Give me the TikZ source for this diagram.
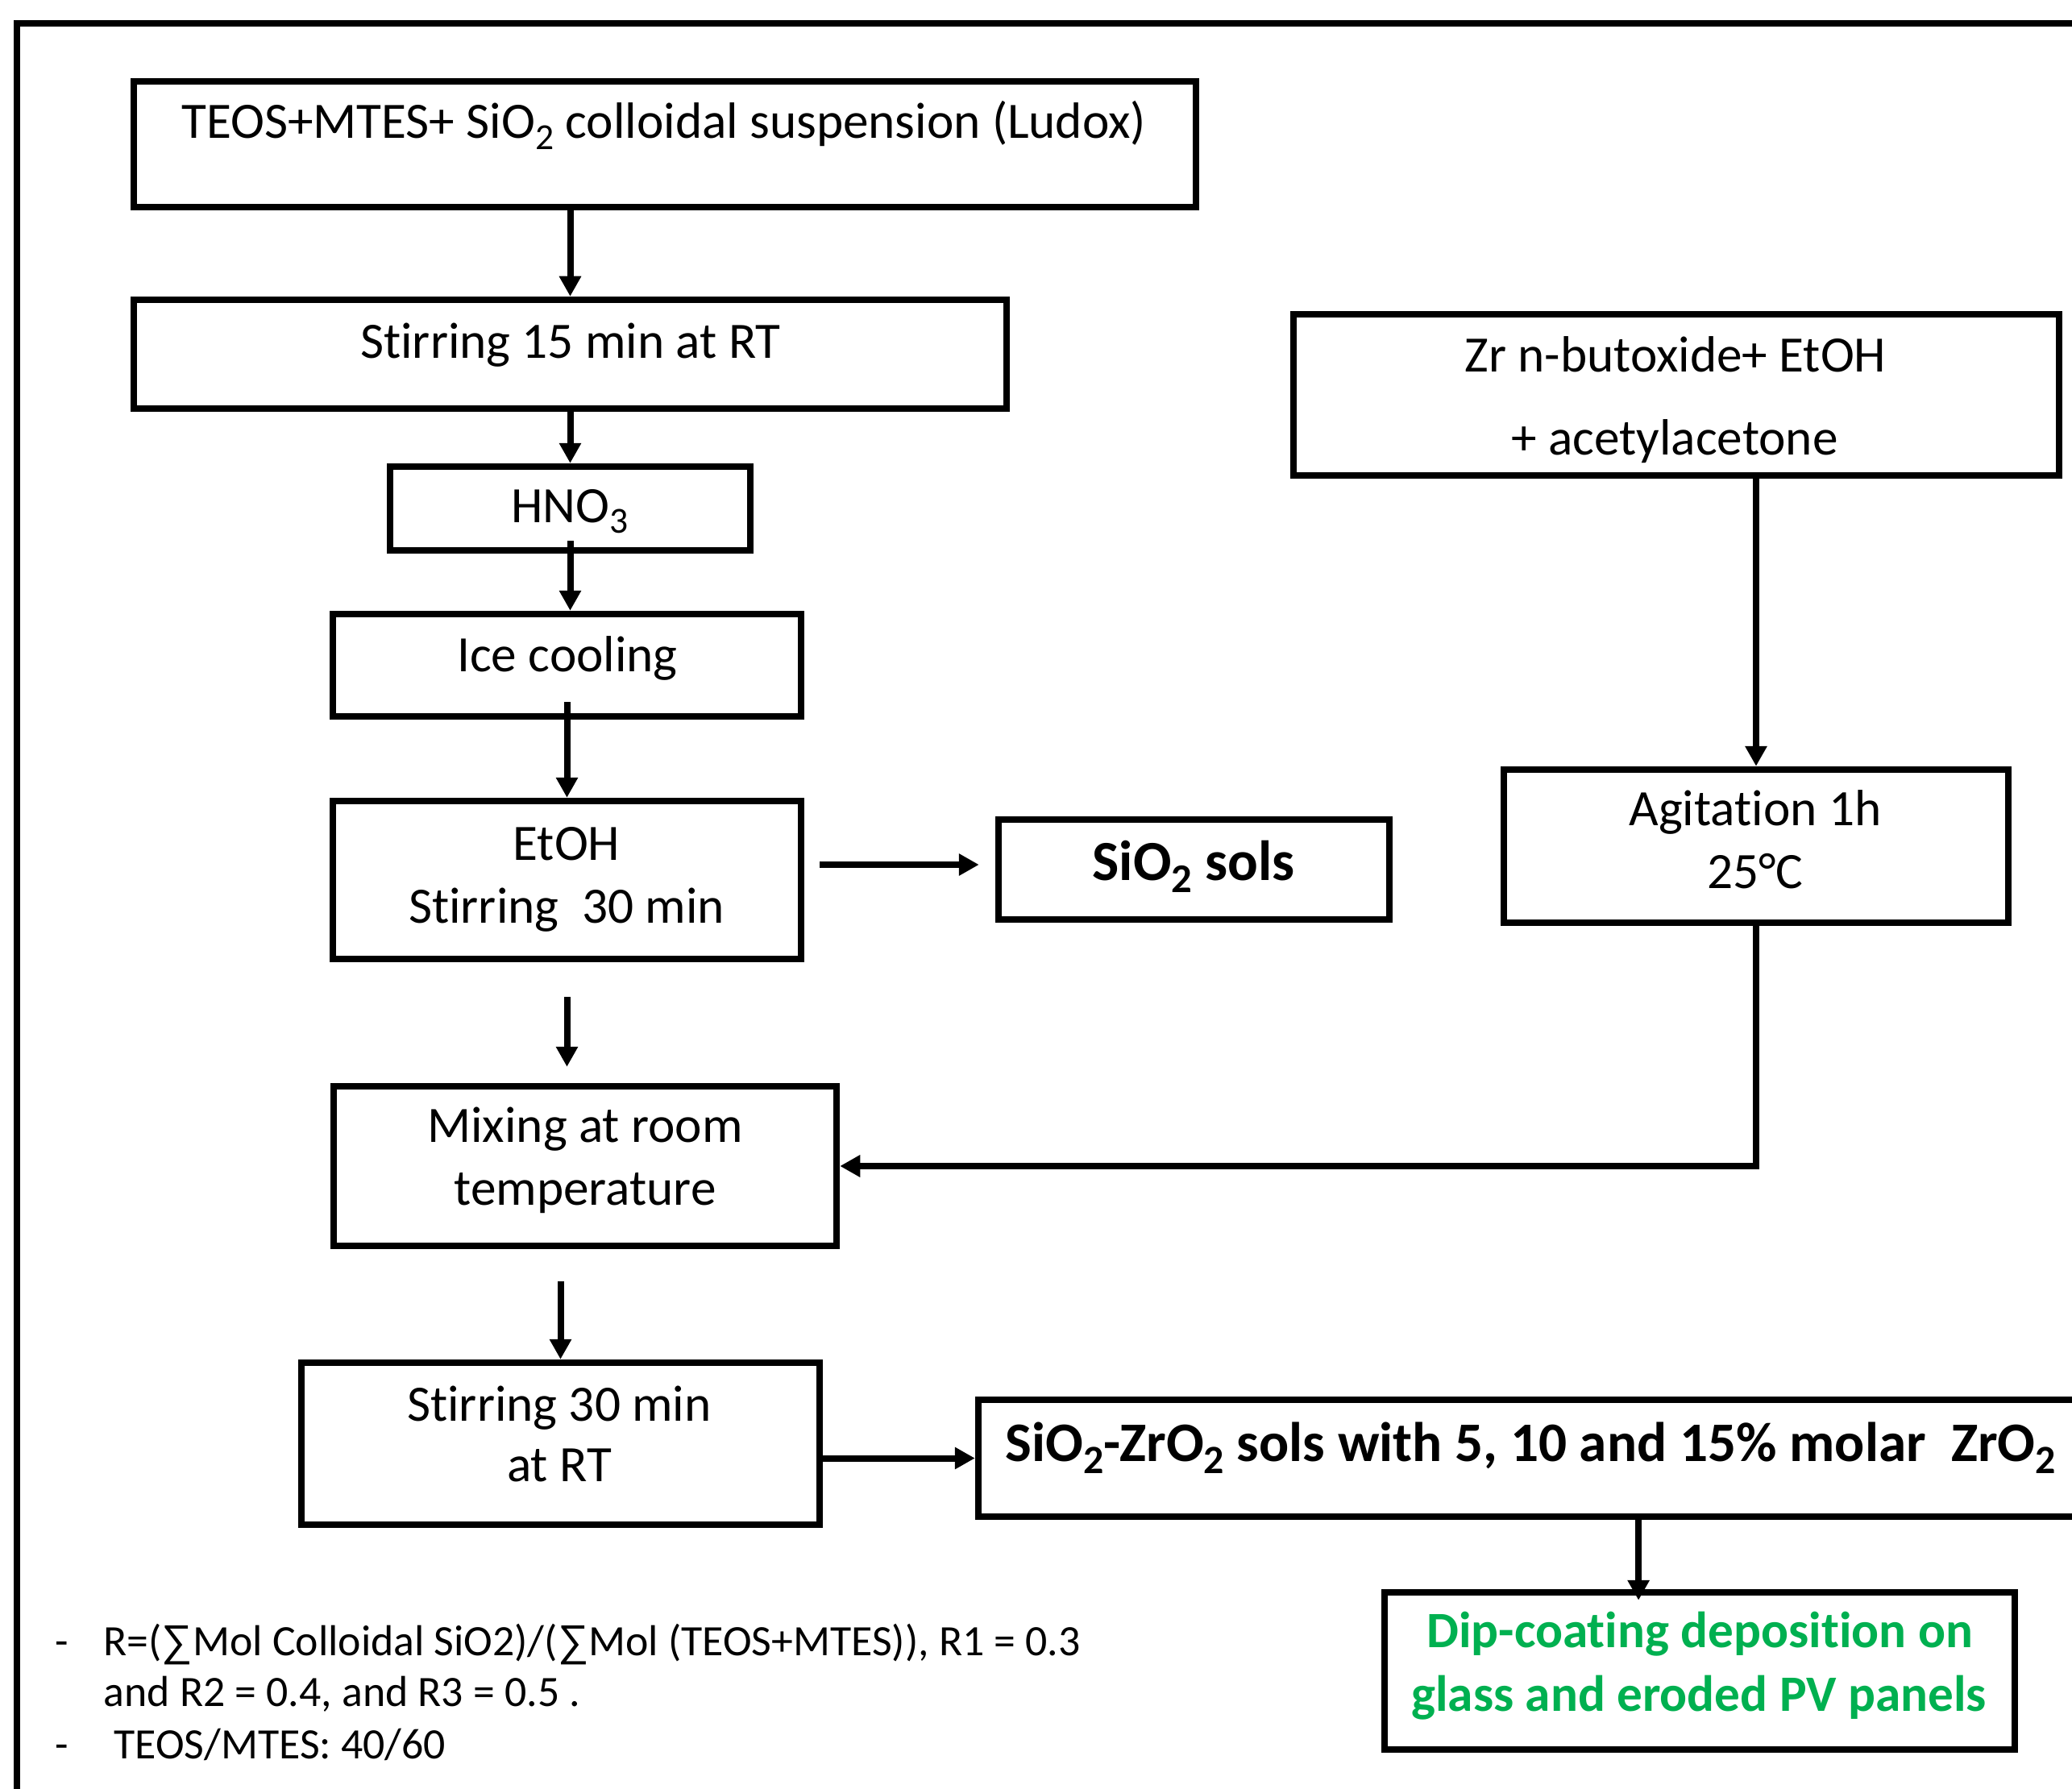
\documentclass[tikz,border=0pt]{standalone}
\usepackage{fontspec}
\setmainfont{Carlito}[Ligatures={NoCommon,NoContextual}]
\newfontfamily\sumfont{Liberation Sans}
\usepackage{graphicx}
\usetikzlibrary{arrows.meta,calc}
\definecolor{dipgreen}{HTML}{00B050}
\newcommand{\sbs}[1]{\raisebox{-0.22em}{\scalebox{0.72}{#1}}}
\tikzset{
  box/.style={draw, line width=0.085cm, inner sep=0pt},
  arr/.style={line width=0.08cm, -{Triangle[length=0.25cm,width=0.26cm]}},
  txt/.style={anchor=base, inner sep=0pt, font=\fontsize{18}{22}\selectfont},
  btxt/.style={anchor=base, inner sep=0pt, font=\fontsize{20}{24}\selectfont\bfseries},
  gtxt/.style={anchor=base, inner sep=0pt, text=dipgreen, font=\fontsize{18}{22}\selectfont\bfseries},
  note/.style={anchor=base west, inner sep=0pt, font=\fontsize{15.3}{18}\selectfont},
}
\begin{document}
\begin{tikzpicture}
\useasboundingbox (0,0) rectangle (25.71,-22.20);
\fill[white] (0,0) rectangle (25.71,-22.20);
% outer frame (right and bottom sides lie outside the picture)
\draw[line width=0.085cm] (26.2,-0.29) -- (0.21,-0.29) -- (0.21,-22.7);

% boxes
\node[box, minimum width=13.18cm, minimum height=1.56cm] (teos) at (8.25,-1.79) {};
\node[box, minimum width=10.83cm, minimum height=1.35cm] (stir15) at (7.075,-4.395) {};
\node[box, minimum width=4.47cm, minimum height=1.04cm] (hno) at (7.075,-6.31) {};
\node[box, minimum width=5.81cm, minimum height=1.27cm] (ice) at (7.035,-8.255) {};
\node[box, minimum width=5.81cm, minimum height=1.96cm] (etoh) at (7.035,-10.92) {};
\node[box, minimum width=4.85cm, minimum height=1.24cm] (sols) at (14.815,-10.79) {};
\node[box, minimum width=9.50cm, minimum height=2.00cm] (zr) at (20.80,-4.90) {};
\node[box, minimum width=6.26cm, minimum height=1.90cm] (agit) at (21.79,-10.50) {};
\node[box, minimum width=6.24cm, minimum height=1.98cm] (mix) at (7.26,-14.47) {};
\node[box, minimum width=6.43cm, minimum height=2.01cm] (st30) at (6.955,-17.915) {};
\node[box, minimum width=14.36cm, minimum height=1.45cm] (zrsol) at (19.32,-18.095) {};
\node[box, minimum width=7.82cm, minimum height=1.95cm] (dip) at (21.09,-20.735) {};

% texts
\node[txt] (tteos) at (8.24,-1.72) {TEOS+MTES+ SiO\sbs{2} colloidal suspension (Ludox)};
\node[txt] (tstir15) at (7.08,-4.44) {Stirring 15 min at RT};
\node[txt] (thno) at (7.07,-6.48) {HNO\sbs{3}};
\node[txt] (tice) at (7.04,-8.33) {Ice cooling};
\node[txt] (tetoha) at (7.03,-10.67) {EtOH};
\node[txt] (tetohb) at (7.03,-11.45) {Stirring\ \ 30 min};
\node[btxt] (tsols) at (14.81,-10.92) {SiO\sbs{2} sols};
\node[txt] (tzra) at (20.79,-4.61) {Zr n-butoxide+ EtOH};
\node[txt] (tzrb) at (20.78,-5.64) {+ acetylacetone};
\node[txt] (taga) at (21.78,-10.24) {Agitation 1h};
\node[txt] (tagb) at (21.78,-11.02) {25°C};
\node[txt] (tmixa) at (7.26,-14.17) {Mixing at room};
\node[txt] (tmixb) at (7.26,-14.95) {temperature};
\node[txt] (tsta) at (6.94,-17.63) {Stirring 30 min};
\node[txt] (tstb) at (6.94,-18.38) {at RT};
\node[btxt, anchor=base west, font=\fontsize{19.7}{24}\selectfont\bfseries] (tzrsol) at (12.47,-18.13) {SiO\sbs{2}-ZrO\sbs{2} sols with 5, 10 and 15\% molar\ \ ZrO\sbs{2}};
\node[gtxt] (tdipa) at (21.09,-20.44) {Dip-coating deposition on};
\node[gtxt] (tdipb) at (21.08,-21.23) {glass and eroded PV panels};

% notes
\node[note] (da) at (0.68,-20.54) {-};
\node[note] (na) at (1.28,-20.54) {R=({\sumfont ∑}Mol Colloidal SiO2)/({\sumfont ∑}Mol (TEOS+MTES)), R1 = 0.3};
\node[note] (nb) at (1.28,-21.17) {and R2 = 0.4, and R3 = 0.5 .};
\node[note] (db) at (0.68,-21.82) {-};
\node[note] (nc) at (1.41,-21.82) {TEOS/MTES: 40/60};

% connectors
\coordinate (dipin) at ($(dip.north west)!0.404!(dip.north east)$);
\draw[arr] (stir15.north |- teos.south) -- (stir15.north);
\draw[arr] (hno.north |- stir15.south) -- (hno.north);
\draw[arr, shorten <=-0.16cm] (hno.south) -- (hno.south |- ice.north);
\draw[arr, shorten <=-0.22cm] (ice.south) -- (ice.south |- etoh.north);
\draw[arr, shorten <=0.43cm, shorten >=0.2cm] (etoh.south) -- (etoh.south |- mix.north);
\draw[arr, shorten <=0.4cm] (st30.north |- mix.south) -- (st30.north);
\draw[arr, shorten <=0.19cm, shorten >=0.2cm] ($(etoh.east |- sols.west)+(0,0.06)$) -- ($(sols.west)+(0,0.06)$);
\draw[arr] (zrsol.west -| st30.east) -- (zrsol.west);
\draw[arr] (agit.north |- zr.south) -- (agit.north);
\draw[arr] (agit.south) |- (mix.east);
\draw[arr, shorten >=-0.14cm] (dipin |- zrsol.south) -- (dipin);
\end{tikzpicture}
\end{document}
